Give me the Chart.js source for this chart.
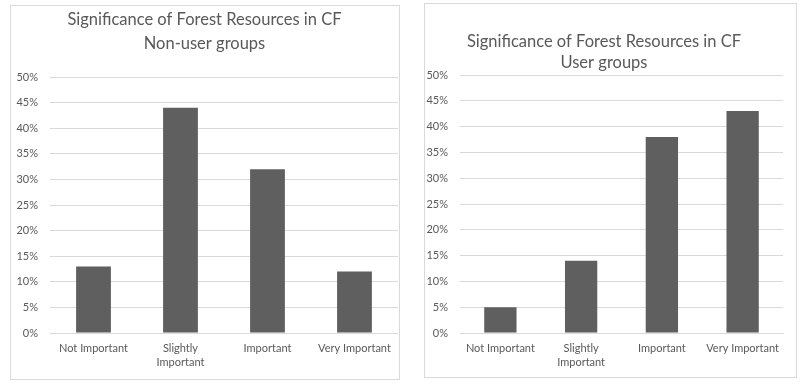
<!DOCTYPE html>
<html>
<head>
<meta charset="utf-8">
<script src="https://cdn.jsdelivr.net/npm/chart.js@4.4.0/dist/chart.umd.min.js"></script>
<style>
  body { margin: 0; background: #fff; width: 804px; height: 387px; position: relative; overflow: hidden; }
  .panel { position: absolute; border: 1px solid #d9d9d9; background: #fff; }
  #leftPanel { left: 10px; top: 5px; width: 388px; height: 373px; }
  #rightPanel { left: 424px; top: 3px; width: 371px; height: 373px; }
  canvas { display: block; }
</style>
</head>
<body>
<div class="panel" id="leftPanel"><canvas id="nonUserChart" width="388" height="373"></canvas></div>
<div class="panel" id="rightPanel"><canvas id="userChart" width="371" height="373"></canvas></div>
<script>
const categories = ['Not Important', ['Slightly', 'Important'], 'Important', 'Very Important'];
const nonUserValues = [13, 44, 32, 12];
const userValues = [5, 14, 38, 43];
const yTicks = [0, 5, 10, 15, 20, 25, 30, 35, 40, 45, 50];

const FONT = 'Lato, "Open Sans", sans-serif';
const GREY = '#595959';

function makeChart(id, title, values, opts) {
  const ctx = document.getElementById(id).getContext('2d');
  return new Chart(ctx, {
    type: 'bar',
    data: {
      labels: categories,
      datasets: [{
        data: values,
        backgroundColor: '#5f5f5f',
        categoryPercentage: 0.4,
        barPercentage: 1
      }]
    },
    options: {
      responsive: false,
      animation: false,
      layout: { padding: { left: 0, right: opts.padRight, top: 0, bottom: 0 } },
      plugins: {
        legend: { display: false },
        tooltip: { enabled: false },
        title: {
          display: true,
          text: title,
          color: GREY,
          font: { family: FONT, size: 16.5, weight: 'normal', lineHeight: opts.titleLine / 16.5 },
          padding: { top: opts.titleTop, bottom: opts.titleBottom }
        }
      },
      scales: {
        x: {
          grid: { display: false, drawTicks: false },
          border: { color: '#d9d9d9' },
          ticks: { color: GREY, font: { family: FONT, size: 11, lineHeight: 14 / 11 }, padding: 8, maxRotation: 0, autoSkip: false },
          afterFit: (s) => { s.height = opts.xHeight; }
        },
        y: {
          min: 0,
          max: 50,
          afterBuildTicks: (s) => { s.ticks = yTicks.map(v => ({ value: v })); },
          grid: { color: '#d9d9d9', drawTicks: false },
          border: { display: false },
          ticks: { color: GREY, font: { family: FONT, size: 11 }, padding: 12, callback: (v) => v + '%' },
          afterFit: (s) => { s.width = opts.yWidth; }
        }
      }
    }
  });
}

makeChart('nonUserChart', ['Significance of Forest Resources in CF', 'Non-user groups'], nonUserValues,
  { padRight: 1, titleLine: 24, titleTop: 2, titleBottom: 21, xHeight: 46, yWidth: 39 });
makeChart('userChart', ['Significance of Forest Resources in CF', 'User groups'], userValues,
  { padRight: 13, titleLine: 21, titleTop: 27, titleBottom: 2, xHeight: 44, yWidth: 35 });
</script>
</body>
</html>
